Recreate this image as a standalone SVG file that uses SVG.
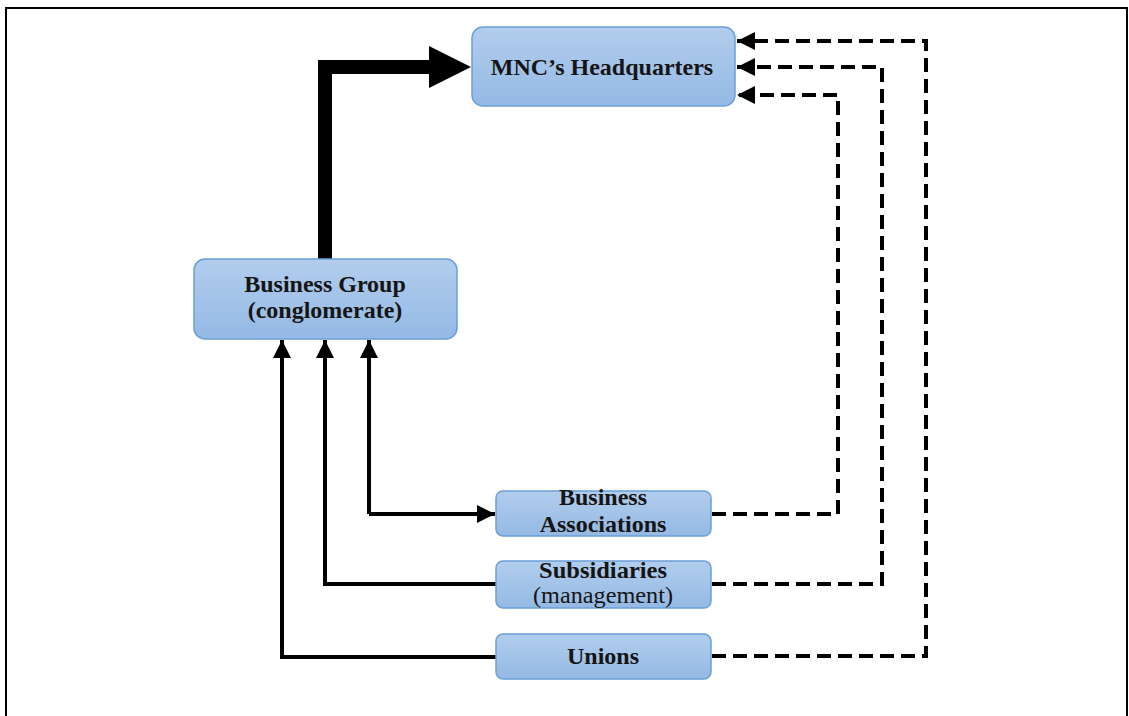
<svg xmlns="http://www.w3.org/2000/svg" width="1129" height="716" viewBox="0 0 1129 716">
  <style>
    .box { fill: url(#boxFill); stroke: #6a9fd8; stroke-width: 1.5; }
    .lbl { font-family: "Liberation Serif", "Times New Roman", serif; font-weight: bold; font-size: 24px; fill: #151515; text-anchor: middle; }
    .reg { font-weight: normal; }
    .solid { fill: none; stroke: #000; stroke-width: 4; }
    .dash { fill: none; stroke: #000; stroke-width: 4; stroke-dasharray: 14 7; }
  </style>
  <defs>
    <linearGradient id="boxFill" x1="0" y1="0" x2="0" y2="1">
      <stop offset="0" stop-color="#b2cded"/>
      <stop offset="1" stop-color="#94b9e4"/>
    </linearGradient>
    <marker id="head" viewBox="0 0 10 10" refX="10" refY="5" markerWidth="4.5" markerHeight="4.5" markerUnits="strokeWidth" orient="auto">
      <path d="M0,0 L10,5 L0,10 Z" fill="#000"/>
    </marker>
  </defs>

  <rect x="6" y="8" width="1121" height="720" fill="#fff" stroke="#000" stroke-width="2"/>

  <g id="connectors">
    <!-- heavy arrow: business group to headquarters -->
    <path d="M325,259 V67 H432" fill="none" stroke="#000" stroke-width="14"/>
    <path d="M429,46 L471,67 L429,88 Z" fill="#000"/>
    <!-- solid links to business group -->
    <path class="solid" d="M369,514 V340" marker-end="url(#head)"/>
    <path class="solid" d="M369,514 H495" marker-end="url(#head)"/>
    <path class="solid" d="M497,584 H325 V340" marker-end="url(#head)"/>
    <path class="solid" d="M497,657 H282 V340" marker-end="url(#head)"/>
    <!-- dashed links to headquarters -->
    <path class="dash" d="M712,514 H838 V95 H737" marker-end="url(#head)"/>
    <path class="dash" d="M712,584 H882 V67 H737" marker-end="url(#head)"/>
    <path class="dash" d="M712,656 H926 V41 H737" marker-end="url(#head)"/>
  </g>

  <g id="hq">
    <rect class="box" x="472" y="27" width="263" height="79" rx="11"/>
    <text class="lbl" x="602" y="75">MNC’s Headquarters</text>
  </g>

  <g id="business-group">
    <rect class="box" x="194" y="259" width="263" height="80" rx="11"/>
    <text class="lbl" x="325" y="292">Business Group</text>
    <text class="lbl" x="325" y="318">(conglomerate)</text>
  </g>

  <g id="business-associations">
    <rect class="box" x="496" y="491" width="215" height="45" rx="7"/>
    <text class="lbl" x="603" y="505">Business</text>
    <text class="lbl" x="603" y="532">Associations</text>
  </g>

  <g id="subsidiaries">
    <rect class="box" x="496" y="561" width="215" height="47" rx="7"/>
    <!-- two tight lines, stretched sideways to fill the box -->
    <text class="lbl" x="603" y="578" font-size="19" textLength="128" lengthAdjust="spacingAndGlyphs">Subsidiaries</text>
    <text class="lbl reg" x="603" y="603" font-size="18" textLength="140" lengthAdjust="spacingAndGlyphs">(management)</text>
  </g>

  <g id="unions">
    <rect class="box" x="496" y="634" width="215" height="45" rx="7"/>
    <text class="lbl" x="603" y="664">Unions</text>
  </g>
</svg>
